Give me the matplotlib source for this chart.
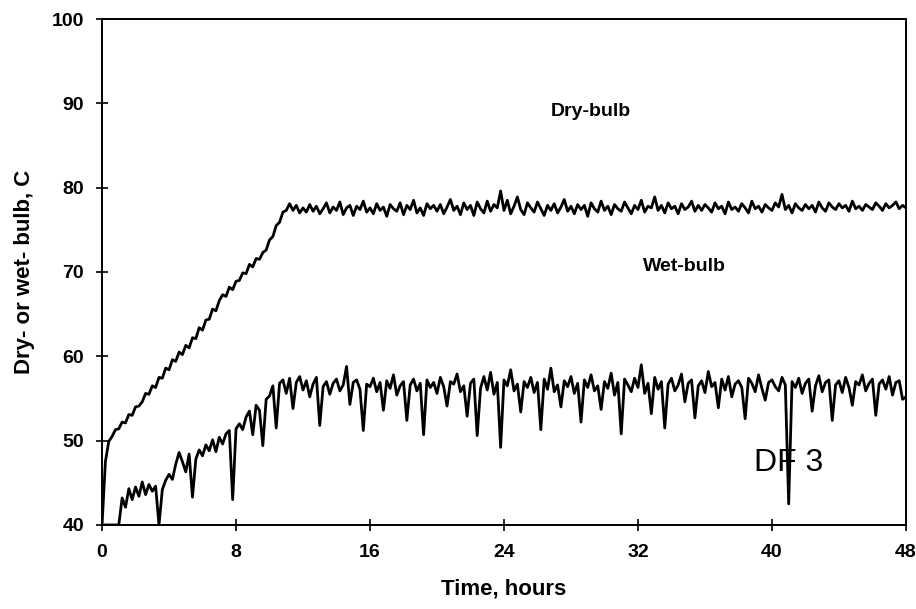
import numpy as np
import matplotlib.pyplot as plt

plt.rcParams['font.family'] = ['Liberation Sans', 'DejaVu Sans']

# time axis, 0.2 h sampling
time_h = np.round(np.arange(0, 48.01, 0.2), 1)

dry_bulb = [
    40.0, 47.5, 49.9, 50.5, 51.3, 51.4, 52.2, 52.1, 53.1, 53.0,
    54.0, 54.1, 54.6, 55.6, 55.5, 56.5, 56.3, 57.5, 57.4, 58.6,
    58.4, 59.6, 59.4, 60.5, 60.2, 61.3, 61.0, 62.2, 62.1, 63.4,
    63.1, 64.3, 64.4, 65.6, 65.4, 66.6, 67.3, 67.1, 68.2, 67.9,
    68.9, 69.0, 69.9, 69.8, 70.9, 70.6, 71.6, 71.5, 72.3, 72.6,
    73.8, 74.2, 75.5, 75.9, 77.1, 77.3, 78.1, 77.3, 77.9, 77.0,
    77.6, 77.1, 78.0, 77.2, 77.8, 76.9, 77.5, 78.2, 77.0, 77.7,
    77.3, 78.3, 76.8, 77.6, 77.9, 76.7, 77.8, 77.4, 78.4, 77.1,
    77.6, 76.9, 78.1, 77.3, 77.7, 76.6, 78.0, 77.5, 77.2, 78.2,
    76.8, 77.9, 77.4, 78.5, 77.0, 77.6, 76.7, 78.1, 77.5, 77.9,
    77.2, 78.0, 76.9, 77.7, 78.6, 77.3, 77.8, 76.8, 78.2, 77.4,
    77.9, 76.7, 78.3, 77.5, 77.0, 78.4, 77.2, 78.0, 77.6, 79.6,
    77.3, 78.5, 76.9, 77.8, 78.9, 77.4, 76.8, 78.2, 77.6, 77.1,
    78.3, 77.5, 76.7, 77.9, 77.3, 78.1, 77.0, 77.7, 78.6, 77.2,
    77.8, 76.9, 78.0, 77.4, 77.9, 76.6, 78.2, 77.5, 77.1, 78.4,
    77.3, 77.8, 76.8, 78.0, 77.5, 77.2, 78.3, 77.6, 76.9, 77.9,
    77.4, 78.5, 77.1, 77.8, 77.6, 78.9, 77.3, 77.9, 77.0, 78.2,
    77.5, 77.8, 76.9, 78.1, 77.4, 77.7, 78.4, 77.2, 77.9, 77.3,
    78.0, 77.6, 77.1, 78.2, 77.5, 77.8, 76.9, 78.3, 77.4, 77.7,
    77.2, 78.1, 77.6, 77.0, 78.4, 77.5, 77.8, 77.1, 78.0, 77.6,
    77.3, 78.2, 77.7, 79.2, 77.4, 77.9, 77.0, 78.1, 77.6, 77.3,
    78.0, 77.5, 77.9, 77.1, 78.3, 77.6, 77.2, 78.2, 77.7, 77.4,
    78.1, 77.6, 77.9, 77.2, 78.4, 77.5, 77.8, 77.3, 78.0, 77.7,
    77.4, 78.2, 77.8, 77.3, 78.1, 77.6, 77.9, 78.3, 77.5, 77.9,
    77.6,
]

wet_bulb = [
    40.0, 40.0, 40.0, 40.0, 40.0, 40.0, 43.2, 42.1, 44.3, 43.0,
    44.5, 43.4, 45.1, 43.6, 44.8, 44.0, 44.6, 40.0, 44.2, 45.3,
    46.0, 45.4, 47.2, 48.6, 47.5, 46.3, 48.4, 43.3, 47.8, 48.9,
    48.2, 49.5, 48.8, 50.1, 48.7, 50.4, 49.6, 50.8, 51.2, 43.0,
    51.4, 52.0, 51.3, 52.8, 53.5, 50.7, 54.2, 53.6, 49.4, 54.9,
    55.3, 56.5, 51.5, 56.8, 57.2, 55.6, 57.4, 53.8, 56.9, 57.6,
    56.0, 57.1, 55.2, 56.7, 57.5, 51.8, 56.4, 57.0, 55.5, 56.8,
    57.3, 55.9, 56.6, 58.8, 54.3, 56.9, 57.2, 56.1, 51.2, 56.7,
    56.4, 57.4, 55.8, 56.9, 53.6, 57.1, 56.2, 57.8, 55.4, 56.5,
    57.0, 52.4, 56.6, 57.3, 55.9, 56.8, 50.7, 57.2, 56.3, 56.9,
    55.6, 57.5, 56.4, 54.1, 57.0, 56.7, 57.9, 55.8, 56.5, 52.9,
    56.8, 57.3, 50.6, 56.2, 57.6, 56.0, 58.1, 55.5, 56.9, 49.2,
    57.2, 56.5, 58.4, 55.9, 56.7, 53.4, 57.0, 56.3, 57.5, 55.7,
    56.9, 51.3, 57.3, 56.1, 58.6, 55.8, 56.6, 54.0, 57.1, 56.4,
    57.6, 55.6, 56.8, 52.2, 57.2, 56.3, 57.8, 55.9, 56.5, 53.7,
    57.0, 56.2, 58.0, 55.4, 56.9, 50.8, 57.3, 56.6, 55.8, 57.4,
    56.3, 59.0, 55.6, 56.8, 53.2, 57.5, 56.1, 57.0, 51.5, 56.7,
    57.4, 55.9, 56.6, 57.9, 54.6, 56.8, 57.2, 52.7, 56.5, 57.1,
    55.7, 58.2, 56.4, 56.9, 53.9, 57.3, 56.0, 57.6, 55.2, 56.7,
    57.1, 56.3, 52.6, 57.4, 56.8, 55.8, 57.8, 56.2, 54.8, 56.9,
    57.2, 56.4, 55.9, 57.5, 56.6, 42.5, 57.0, 56.3, 57.4, 55.6,
    56.8, 57.3, 53.5, 56.5, 57.7, 55.8, 56.9, 57.2, 52.4, 56.6,
    57.1, 55.7, 57.5, 56.3, 54.2, 57.0, 56.6, 57.8, 55.9, 56.8,
    57.3, 53.0, 56.7, 57.2, 56.1, 57.6, 55.4, 56.9, 57.1, 54.9,
    55.2,
]

x_ticks = [0, 8, 16, 24, 32, 40, 48]
y_ticks = [40, 50, 60, 70, 80, 90, 100]

fig = plt.figure(figsize=(9.16, 6.09), dpi=100)
ax = fig.add_axes([0.1114, 0.138, 0.8776, 0.8308])

ax.plot(time_h, dry_bulb, color='black', lw=2.0)
ax.plot(time_h, wet_bulb, color='black', lw=2.0)

ax.set_xlim(0, 48)
ax.set_ylim(40, 100)
ax.set_xticks(x_ticks)
ax.set_yticks(y_ticks)
ax.tick_params(direction='inout', length=8, width=1.2, labelsize=14)
ax.tick_params(axis='x', pad=10)
ax.tick_params(axis='y', pad=9)
for lbl in ax.get_xticklabels() + ax.get_yticklabels():
    lbl.set_fontweight('bold')
for sp in ax.spines.values():
    sp.set_linewidth(1.4)

ax.set_xlabel('Time, hours', fontsize=16, fontweight='bold', labelpad=12)
ax.set_ylabel('Dry- or wet- bulb, C', fontsize=16, fontweight='bold', labelpad=12)

ax.text(29.2, 89.0, 'Dry-bulb', fontsize=14, fontweight='bold', ha='center', va='center')
ax.text(34.8, 70.6, 'Wet-bulb', fontsize=14, fontweight='bold', ha='center', va='center')
ax.text(41.0, 47.3, 'DF 3', fontsize=23, ha='center', va='center')

fig.savefig('out.png', dpi=100)
